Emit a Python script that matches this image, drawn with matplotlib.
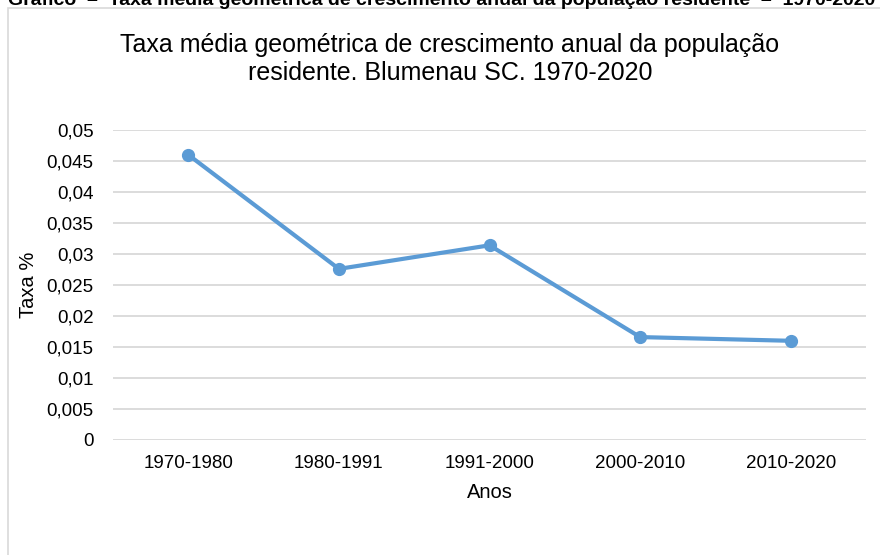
import matplotlib.pyplot as plt
from matplotlib.patches import Rectangle

periods = ["1970-1980", "1980-1991", "1991-2000", "2000-2010", "2010-2020"]
rates = [0.046, 0.0276, 0.0314, 0.0166, 0.0160]
yticks = [0, 0.005, 0.01, 0.015, 0.02, 0.025, 0.03, 0.035, 0.04, 0.045, 0.05]
ytick_labels = ["0", "0,005", "0,01", "0,015", "0,02", "0,025", "0,03", "0,035", "0,04", "0,045", "0,05"]

plt.rcParams['font.family'] = ['Liberation Sans', 'DejaVu Sans']

fig = plt.figure(figsize=(8.8, 5.55), dpi=100)

# chart frame (only left/top edges visible in the reference)
fig.patches.append(Rectangle((7.5 / 880, -0.1), 1.2, 1 - 7.5 / 555 + 0.1,
                             transform=fig.transFigure, fill=False,
                             edgecolor="#d9d9d9", linewidth=1.2))

# caption cut off at the very top, as in the source image
fig.text(8 / 880, 1 - 5 / 555,
         "Gráfico  –  Taxa média geométrica de crescimento anual da população residente  –  1970-2020",
         fontsize=14, fontweight="bold", ha="left", va="baseline")

ax = fig.add_axes([113 / 880, 1 - 440 / 555, (866 - 113) / 880, (440 - 130) / 555])
x = range(len(periods))
ax.plot(x, rates, color="#5b9bd5", linewidth=3, marker="o", markersize=8.5,
        solid_capstyle="round", zorder=3)

ax.set_xlim(-0.5, len(periods) - 0.5)
ax.set_ylim(0, 0.05)
ax.set_yticks(yticks)
ax.set_yticklabels(ytick_labels)
ax.set_xticks(list(x))
ax.set_xticklabels(periods)
ax.tick_params(axis="both", length=0, labelsize=13.5, labelcolor="#000000")
ax.tick_params(axis="y", pad=14)
ax.tick_params(axis="x", pad=11)
ax.grid(axis="y", color="#d9d9d9", linewidth=1.3)
ax.set_axisbelow(True)
for s in ax.spines.values():
    s.set_visible(False)

ax.set_xlabel("Anos", fontsize=14.5, labelpad=8)
ax.set_ylabel("Taxa %", fontsize=14.5, labelpad=6)

fig.text(450 / 880, 1 - 59 / 555,
         "Taxa média geométrica de crescimento anual da população\nresidente. Blumenau SC. 1970-2020",
         fontsize=18, ha="center", va="center", linespacing=1.2)

fig.savefig("out.png", dpi=100)
